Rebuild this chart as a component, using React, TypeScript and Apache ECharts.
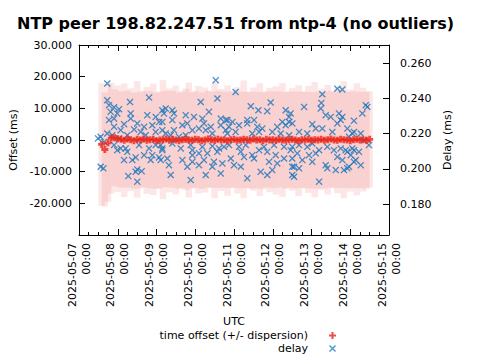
import React, { useEffect, useRef } from 'react';
import * as echarts from 'echarts';

const FONT = 'DejaVu Sans';
const TITLE = 'NTP peer 198.82.247.51 from ntp-4 (no outliers)';
const OFFSET_NAME = 'time offset (+/- dispersion)';
const DELAY_NAME = 'delay';
const X_NAME = 'UTC';
const Y_LEFT_NAME = 'Offset (ms)';
const Y_RIGHT_NAME = 'Delay (ms)';

const HOUR = 3600000;
const DAY = 24 * HOUR;
const BASE = Date.UTC(2025, 4, 7); // 2025-05-07 00:00 UTC
const X_DAYS = 8;

// offset samples: hours since 2025-05-07 00:00 UTC
const offsetHours = [
  14, 16, 18, 20, 22, 24, 26, 28, 30, 32, 34, 36, 38, 40, 42, 44, 46, 48, 50, 52,
  54, 56, 58, 60, 62, 64, 66, 68, 70, 72, 74, 76, 78, 80, 82, 84, 86, 88, 90, 92,
  94, 96, 98, 100, 102, 104, 106, 108, 110, 112, 114, 116, 118, 120, 122, 124, 126, 128, 130, 132,
  134, 136, 138, 140, 142, 144, 146, 148, 150, 152, 154, 156, 158, 160, 162, 164, 166, 168, 170, 172,
  174, 176, 178, 180,
];
const offsetMs = [
  -1.4, -3.0, -0.9, 0.6, 0.7, 0.4, 0.2, -0.1, 0.3, 0.1, -0.2, 0.2, 0.0, 0.3, -0.1, 0.1, 0.2, -0.2, 0.0, 0.1,
  0.3, -0.1, 0.2, 0.0, -0.2, 0.1, 0.2, 0.0, -0.1, 0.2, 0.1, -0.2, 0.0, 0.3, 0.1, -0.1, 0.2, 0.0, 0.1, -0.2,
  0.1, 0.2, -0.1, 0.0, 0.2, 0.1, -0.1, 0.3, 0.0, 0.1, -0.2, 0.2, 0.0, 0.1, -0.1, 0.2, 0.0, -0.1, 0.1, 0.2,
  0.0, -0.2, 0.1, 0.0, 0.2, -0.1, 0.1, 0.0, 0.2, -0.1, 0.1, 0.3, 0.0, -0.1, 0.2, 0.1, 0.0, -0.2, 0.1, 0.2,
  0.0, 0.1, -0.1, 0.2,
];
const dispersionMs = [
  19.4, 18.0, 18.6, 17.5, 15.3, 16.8, 15.2, 17.9, 15.3, 16.2, 15.2, 18.4, 15.3, 15.2, 16.9, 15.3, 17.6, 15.2, 15.3, 18.8,
  15.2, 16.4, 15.3, 17.2, 15.2, 15.3, 16.0, 18.1, 15.2, 15.3, 17.0, 15.2, 16.6, 15.3, 15.2, 18.3, 15.3, 16.1, 15.2, 17.4,
  15.3, 15.2, 16.8, 15.3, 18.6, 15.2, 15.3, 16.3, 15.2, 17.8, 15.3, 15.2, 16.5, 15.3, 17.1, 15.2, 18.0, 15.3, 15.2, 16.2,
  15.3, 17.5, 15.2, 15.3, 16.9, 15.2, 18.2, 15.3, 16.0, 15.2, 17.3, 15.3, 15.2, 16.7, 15.3, 18.5, 15.2, 16.1, 15.3, 17.7,
  15.2, 16.4, 15.3, 15.2,
];

// delay samples: [hours since 2025-05-07 00:00 UTC, delay ms]
const delayPoints: [number, number][] = [
  [17.5, 0.2485], [17.5, 0.239], [31.6, 0.238], [43.4, 0.2405], [18.6, 0.2362], [21.7, 0.235], [24.8, 0.2339],
  [19.6, 0.2324], [23.7, 0.2315], [32.0, 0.2315], [42.3, 0.2305], [47.5, 0.2295], [51.6, 0.2333], [21.7, 0.2286],
  [18.6, 0.2277], [32.0, 0.2286], [27.9, 0.2254], [36.1, 0.2258], [40.3, 0.2239], [45.4, 0.2248], [49.6, 0.2267],
  [21.7, 0.2239], [25.8, 0.222], [34.1, 0.2224], [38.2, 0.221], [47.5, 0.221], [51.6, 0.222], [17.5, 0.2201],
  [20.6, 0.2191], [13.4, 0.2182], [11.8, 0.2173], [29.9, 0.2191], [41.3, 0.2191], [24.8, 0.2173], [15.5, 0.2153],
  [21.7, 0.2135], [25.8, 0.2116], [28.9, 0.2116], [23.7, 0.2106], [29.9, 0.2097], [37.2, 0.2135], [43.4, 0.2116],
  [47.5, 0.2135], [51.6, 0.2106], [40.3, 0.2078], [45.4, 0.2078], [27.9, 0.205], [33.0, 0.205], [35.1, 0.2065],
  [49.6, 0.2065], [44.4, 0.205], [13.4, 0.2012], [15.1, 0.2003], [36.1, 0.1997], [38.8, 0.1987], [35.1, 0.1983],
  [30.5, 0.1959], [36.1, 0.1927],
  [84.7, 0.2504], [75.4, 0.238], [85.7, 0.24], [53.7, 0.2343], [57.8, 0.2333], [58.8, 0.2315], [52.6, 0.2315],
  [66.1, 0.2305], [80.5, 0.2324], [51.6, 0.2267], [57.8, 0.2277], [71.2, 0.2295], [76.4, 0.2286], [87.8, 0.2286],
  [91.9, 0.2277], [64.0, 0.2248], [67.1, 0.2258], [77.4, 0.2258], [81.6, 0.2239], [87.8, 0.2248], [58.8, 0.222],
  [70.2, 0.222], [74.3, 0.2229], [78.5, 0.222], [90.9, 0.222], [53.7, 0.2201], [56.8, 0.2191], [61.9, 0.2182],
  [66.1, 0.2191], [82.6, 0.2201], [50.6, 0.2135], [51.6, 0.2116], [57.8, 0.2144], [63.0, 0.2116], [69.2, 0.2135],
  [70.2, 0.2106], [76.4, 0.2125], [82.6, 0.2129], [86.7, 0.2116], [89.8, 0.2125], [70.2, 0.2078], [74.3, 0.2088],
  [79.5, 0.2088], [85.7, 0.2097], [50.6, 0.205], [54.7, 0.2059], [64.0, 0.205], [70.2, 0.204], [77.4, 0.205],
  [83.6, 0.204], [88.8, 0.2031], [55.7, 0.2021], [67.1, 0.2012], [74.3, 0.2021], [82.6, 0.2012], [56.8, 0.1965],
  [69.2, 0.1936], [78.5, 0.1965], [87.8, 0.1974],
  [97.0, 0.2437], [106.4, 0.2356], [111.1, 0.2333], [116.6, 0.2328], [118.7, 0.2377], [128.0, 0.2333],
  [90.9, 0.2277], [95.0, 0.2267], [104.2, 0.2277], [108.4, 0.2277], [125.9, 0.2267], [130.1, 0.2295],
  [92.9, 0.2239], [99.1, 0.2248], [104.2, 0.2258], [110.4, 0.2239], [113.5, 0.2229], [122.8, 0.2239],
  [128.0, 0.2248], [132.1, 0.2258], [91.9, 0.2201], [97.0, 0.221], [107.3, 0.2201], [111.5, 0.221],
  [119.7, 0.221], [124.9, 0.2201], [130.1, 0.2191], [92.9, 0.2135], [99.1, 0.2125], [103.3, 0.2135],
  [114.6, 0.2125], [120.8, 0.2135], [127.0, 0.2125], [131.1, 0.2106], [100.2, 0.2097], [107.3, 0.2078],
  [111.5, 0.2106], [116.6, 0.2097], [94.0, 0.2059], [102.2, 0.2068], [108.4, 0.2059], [121.8, 0.2078],
  [127.0, 0.2059], [96.0, 0.2021], [100.2, 0.2012], [117.7, 0.204], [122.8, 0.2031], [132.1, 0.2012],
  [112.5, 0.1983], [116.6, 0.1965], [119.7, 0.1993], [132.1, 0.1965], [104.2, 0.1946],
  [150.7, 0.2424], [160.0, 0.2456], [163.1, 0.2451], [150.1, 0.2375], [149.7, 0.2343], [139.4, 0.2352],
  [152.8, 0.2305], [155.9, 0.2295], [161.0, 0.2315], [163.1, 0.2295], [131.1, 0.2315], [130.1, 0.2267],
  [160.0, 0.2258], [170.3, 0.2273], [144.5, 0.2254], [146.6, 0.2229], [150.7, 0.2229], [136.3, 0.221],
  [141.4, 0.2201], [156.9, 0.221], [166.2, 0.2229], [169.3, 0.2201], [132.1, 0.2125], [136.3, 0.2135],
  [141.4, 0.2125], [144.5, 0.2144], [148.7, 0.2106], [153.8, 0.2125], [157.9, 0.2106], [162.1, 0.2116],
  [166.2, 0.2097], [170.3, 0.2106], [135.2, 0.2088], [142.5, 0.2078], [146.6, 0.2088], [160.0, 0.2068],
  [168.3, 0.2078], [132.1, 0.2059], [138.3, 0.205], [144.5, 0.204], [152.8, 0.2021], [163.1, 0.205],
  [171.4, 0.205], [133.2, 0.2012], [136.3, 0.2003], [153.8, 0.2003], [159.0, 0.1993], [166.2, 0.2003],
  [133.2, 0.1955], [148.7, 0.1927],
  [178.6, 0.2352], [177.6, 0.2362], [175.5, 0.2315], [162.1, 0.2277], [170.3, 0.221], [174.5, 0.2201],
  [176.5, 0.2163], [179.6, 0.2135], [167.2, 0.2182], [165.2, 0.2106], [169.3, 0.2116], [173.4, 0.2097],
  [174.5, 0.2021], [170.3, 0.204], [167.2, 0.2012], [164.1, 0.1993],
];

const OFFSET_MIN = -30;
const OFFSET_MAX = 30;
const OFFSET_STEP = 10;
const DELAY_MIN = 0.1624;
const DELAY_MAX = 0.2704;
const delayTicks = [0.18, 0.2, 0.22, 0.24, 0.26];

const PLUS_THIN = 'path://M3.5,0H6.5V3.5H10V6.5H6.5V10H3.5V6.5H0V3.5H3.5Z';
const PLUS_BOLD = 'path://M3,0H7V3H10V7H7V10H3V7H0V3H3Z';
const CROSS = 'path://M0,1.3L1.3,0L5,3.7L8.7,0L10,1.3L6.3,5L10,8.7L8.7,10L5,6.3L1.3,10L0,8.7L3.7,5Z';

const RED = '#e8251a';
const BLUE = '#1a75bb';

const pad = (n: number) => (n < 10 ? '0' + n : '' + n);
const fmtDate = (v: number) => {
  const d = new Date(v);
  return `${d.getUTCFullYear()}-${pad(d.getUTCMonth() + 1)}-${pad(d.getUTCDate())}\n${pad(d.getUTCHours())}:${pad(d.getUTCMinutes())}`;
};

export default function App() {
  const ref = useRef<HTMLDivElement>(null);
  useEffect(() => {
    if (!ref.current) return;
    const chart = echarts.init(ref.current, null, { renderer: 'svg' });
    const black = { color: '#000', width: 1 };
    const baseText = { fontFamily: FONT, fontSize: 11, color: '#000' };

    const bandData = offsetHours.map((h, i) => [
      BASE + h * HOUR,
      offsetMs[i] - dispersionMs[i],
      offsetMs[i] + dispersionMs[i],
    ]);
    const offsetData = offsetHours.map((h, i) => [BASE + h * HOUR, offsetMs[i]]);
    const delayData = delayPoints.map(([h, d]) => [BASE + h * HOUR, d]);
    const step = offsetHours[1] - offsetHours[0];

    const xCommon = {
      type: 'value',
      min: BASE,
      max: BASE + X_DAYS * DAY,
      interval: DAY,
      axisLine: { show: true, onZero: false, lineStyle: black },
      axisTick: { show: true, inside: true, length: 6, lineStyle: black },
      minorTick: { show: true, splitNumber: 4, length: 3, lineStyle: black },
      splitLine: { show: false },
      minorSplitLine: { show: false },
    };

    chart.setOption({
      animation: false,
      textStyle: { fontFamily: FONT },
      title: {
        text: TITLE,
        left: 12,
        top: 10,
        textStyle: { fontFamily: FONT, fontSize: 16, fontWeight: 'bold', color: '#000' },
      },
      grid: { left: 79, right: 91, top: 45, bottom: 125, containLabel: false, outerBoundsMode: 'none' },
      legend: [
        {
          data: [{ name: OFFSET_NAME, icon: PLUS_THIN }],
          orient: 'vertical',
          align: 'right',
          right: 144,
          top: 330,
          padding: 0,
          itemWidth: 7,
          itemHeight: 7,
          selectedMode: false,
          textStyle: { ...baseText, padding: [0, 16, 0, 0] },
        },
        {
          data: [{ name: DELAY_NAME, icon: CROSS }],
          orient: 'vertical',
          align: 'right',
          right: 144,
          top: 343,
          padding: 0,
          itemWidth: 7,
          itemHeight: 7,
          selectedMode: false,
          textStyle: { ...baseText, padding: [0, 16, 0, 0] },
        },
      ],
      xAxis: [
        {
          ...xCommon,
          position: 'bottom',
          name: X_NAME,
          nameLocation: 'middle',
          nameGap: 81,
          nameTextStyle: baseText,
          axisLabel: {
            ...baseText,
            rotate: 90,
            margin: 8,
            lineHeight: 14,
            showMinLabel: true,
            showMaxLabel: true,
            formatter: (v: number) => fmtDate(v),
          },
        },
        {
          ...xCommon,
          position: 'top',
          axisLabel: { show: false },
        },
      ],
      yAxis: [
        {
          type: 'value',
          position: 'left',
          min: OFFSET_MIN,
          max: OFFSET_MAX,
          interval: OFFSET_STEP,
          name: Y_LEFT_NAME,
          nameLocation: 'middle',
          nameGap: 58,
          nameTextStyle: baseText,
          axisLine: { show: true, lineStyle: black },
          axisTick: { show: true, inside: true, length: 6, lineStyle: black },
          splitLine: { show: false },
          axisLabel: {
            ...baseText,
            margin: 7,
            formatter: (v: number) => (v === OFFSET_MIN ? '' : v.toFixed(3)),
          },
        },
        {
          type: 'value',
          position: 'right',
          min: DELAY_MIN,
          max: DELAY_MAX,
          name: Y_RIGHT_NAME,
          nameLocation: 'middle',
          nameGap: 50,
          nameTextStyle: baseText,
          axisLine: { show: true, lineStyle: black },
          axisTick: { show: true, inside: true, length: 6, lineStyle: black, customValues: delayTicks },
          splitLine: { show: false },
          axisLabel: {
            ...baseText,
            margin: 11,
            customValues: delayTicks,
            formatter: (v: number) => v.toFixed(3),
          },
        },
      ],
      series: [
        {
          type: 'custom',
          name: 'dispersion',
          xAxisIndex: 0,
          yAxisIndex: 0,
          data: bandData,
          encode: { x: 0, y: [1, 2] },
          silent: true,
          z: 1,
          renderItem: (_params: any, api: any) => {
            const t = api.value(0);
            const lo = api.value(1);
            const hi = api.value(2);
            const p1 = api.coord([t, hi]);
            const p2 = api.coord([t, lo]);
            const w = api.size([2 * step * HOUR, 0])[0];
            return {
              type: 'rect',
              shape: { x: p1[0] - w / 2, y: p1[1], width: w, height: p2[1] - p1[1] },
              style: { fill: 'rgba(240,120,120,0.19)' },
            };
          },
        },
        {
          type: 'scatter',
          name: DELAY_NAME,
          xAxisIndex: 0,
          yAxisIndex: 1,
          data: delayData,
          symbol: CROSS,
          symbolSize: 7,
          itemStyle: { color: BLUE },
          z: 2,
        },
        {
          type: 'scatter',
          name: OFFSET_NAME,
          xAxisIndex: 0,
          yAxisIndex: 0,
          data: offsetData,
          symbol: PLUS_BOLD,
          symbolSize: 7,
          itemStyle: { color: RED },
          z: 3,
        },
      ],
    });
    return () => chart.dispose();
  }, []);
  return <div ref={ref} style={{ width: 480, height: 360, position: 'absolute', left: 0, top: 0 }} />;
}
